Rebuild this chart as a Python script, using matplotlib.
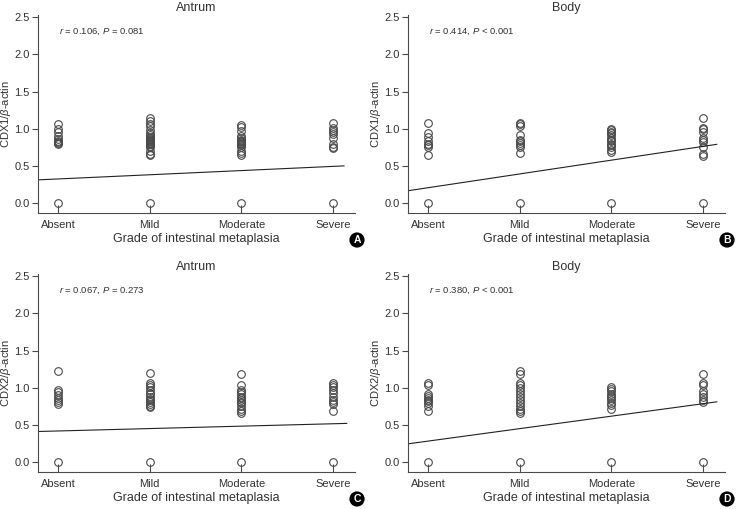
import matplotlib.pyplot as plt
import numpy as np

plt.rcParams['font.family'] = ['Liberation Sans Narrow', 'Liberation Sans', 'DejaVu Sans']
plt.rcParams['mathtext.fontset'] = 'custom'
plt.rcParams['mathtext.rm'] = 'Liberation Sans'
plt.rcParams['mathtext.it'] = 'Liberation Sans:italic'

grades = ['Absent', 'Mild', 'Moderate', 'Severe']

# CDX1 / beta-actin, antrum
cdx1_antrum = [
    [1.07, 1.00, 0.95, 0.90, 0.86, 0.83, 0.82, 0.81, 0.80, 0.0],
    [1.14, 1.10, 1.07, 1.03, 0.98, 0.94, 0.91, 0.89, 0.87, 0.86, 0.85, 0.84,
     0.83, 0.82, 0.81, 0.80, 0.79, 0.77, 0.75, 0.70, 0.66, 0.64, 0.0],
    [1.05, 1.02, 0.97, 0.90, 0.87, 0.85, 0.84, 0.83, 0.82, 0.81, 0.79, 0.78,
     0.76, 0.70, 0.67, 0.64, 0.0],
    [1.08, 1.01, 0.98, 0.96, 0.93, 0.88, 0.80, 0.76, 0.74, 0.0],
]
# CDX1 / beta-actin, body
cdx1_body = [
    [1.08, 0.94, 0.89, 0.84, 0.80, 0.78, 0.76, 0.65, 0.0],
    [1.08, 1.06, 1.03, 0.91, 0.85, 0.83, 0.81, 0.78, 0.76, 0.67, 0.0],
    [1.00, 0.98, 0.96, 0.94, 0.91, 0.88, 0.85, 0.83, 0.80, 0.78, 0.75, 0.72,
     0.68, 0.0],
    [1.14, 1.01, 1.00, 0.96, 0.88, 0.85, 0.82, 0.76, 0.66, 0.63, 0.0],
]
# CDX2 / beta-actin, antrum
cdx2_antrum = [
    [1.23, 0.97, 0.94, 0.90, 0.86, 0.84, 0.81, 0.78, 0.0],
    [1.20, 1.07, 1.04, 1.01, 0.97, 0.93, 0.91, 0.88, 0.85, 0.83, 0.81, 0.78,
     0.75, 0.74, 0.0],
    [1.19, 1.04, 0.97, 0.94, 0.91, 0.88, 0.86, 0.83, 0.81, 0.79, 0.76, 0.72,
     0.68, 0.66, 0.0],
    [1.06, 1.03, 1.01, 0.97, 0.93, 0.88, 0.84, 0.81, 0.78, 0.68, 0.0],
]
# CDX2 / beta-actin, body
cdx2_body = [
    [1.06, 1.03, 0.92, 0.89, 0.86, 0.84, 0.82, 0.79, 0.75, 0.68, 0.0],
    [1.22, 1.18, 1.06, 1.03, 0.99, 0.95, 0.91, 0.88, 0.84, 0.80, 0.76, 0.72,
     0.68, 0.66, 0.0],
    [1.01, 0.98, 0.95, 0.92, 0.89, 0.86, 0.83, 0.80, 0.77, 0.71, 0.0],
    [1.19, 1.06, 1.03, 0.96, 0.92, 0.87, 0.83, 0.81, 0.0],
]

# fitted line: value at left edge and at right end
fit_x = [[-0.25, 3.12], [-0.25, 3.15], [-0.25, 3.15], [-0.25, 3.15]]
fit_y = [[0.31, 0.50], [0.16, 0.79], [0.41, 0.52], [0.24, 0.81]]

panels = [cdx1_antrum, cdx1_body, cdx2_antrum, cdx2_body]
titles = ['Antrum', 'Body', 'Antrum', 'Body']
ylabels = [r'CDX1/$\beta$-actin', r'CDX1/$\beta$-actin',
           r'CDX2/$\beta$-actin', r'CDX2/$\beta$-actin']
stats = [r'$\it{r}$ = 0.106, $\it{P}$ = 0.081',
         r'$\it{r}$ = 0.414, $\it{P}$ < 0.001',
         r'$\it{r}$ = 0.067, $\it{P}$ = 0.273',
         r'$\it{r}$ = 0.380, $\it{P}$ < 0.001']
letters = ['A', 'B', 'C', 'D']

fig = plt.figure(figsize=(7.43, 5.09), dpi=100)
W, H = 743, 509
boxes = [(38, 15, 355, 213), (408, 15, 725, 213),
         (38, 274, 355, 472), (408, 274, 725, 472)]
gray = '#4a4a4a'

for i, data in enumerate(panels):
    x0, y0, x1, y1 = boxes[i]
    ax = fig.add_axes([x0 / W, 1 - y1 / H, (x1 - x0) / W, (y1 - y0) / H])
    for j, vals in enumerate(data):
        ax.plot(np.full(len(vals), j), vals, 'o', ms=5.5, mfc='none',
                mec=gray, mew=0.8)
    ax.plot(fit_x[i], fit_y[i], color='#222222', lw=0.8)
    ax.set_xlim(-0.22, 3.24)
    ax.set_ylim(-0.134, 2.53)
    ax.set_xticks(range(4))
    ax.set_xticklabels(grades)
    ax.set_yticks([0, 0.5, 1.0, 1.5, 2.0, 2.5])
    ax.set_yticklabels(['0.0', '0.5', '1.0', '1.5', '2.0', '2.5'])
    ax.tick_params(axis='x', direction='in', length=6, width=0.8, color=gray,
                   labelsize=8, labelcolor='#333333', pad=5)
    ax.tick_params(axis='y', direction='out', length=4, width=0.8, color=gray,
                   labelsize=8, labelcolor='#333333', pad=2)
    for s in ['top', 'right']:
        ax.spines[s].set_visible(False)
    for s in ['left', 'bottom']:
        ax.spines[s].set_color(gray)
        ax.spines[s].set_linewidth(0.8)
    ax.set_title(titles[i], fontsize=9, color='#333333', pad=3)
    ax.set_xlabel('Grade of intestinal metaplasia', fontsize=9,
                  color='#333333', labelpad=2)
    ax.set_ylabel(ylabels[i], fontsize=8, color='#333333', ha='center',
                  va='center')
    ax.yaxis.set_label_coords(-0.102, 0.5)
    ax.text(0.065, 0.915, stats[i], transform=ax.transAxes, fontsize=6.8,
            color='#333333', va='center')
    fig.text((x1 + 2) / W, 1 - (y1 + 27) / H, letters[i], ha='center',
             va='center', fontsize=7.5, fontweight='bold', color='white',
             bbox=dict(boxstyle='circle,pad=0.25', fc='black', ec='none'))

fig.savefig('out.png', dpi=100)
